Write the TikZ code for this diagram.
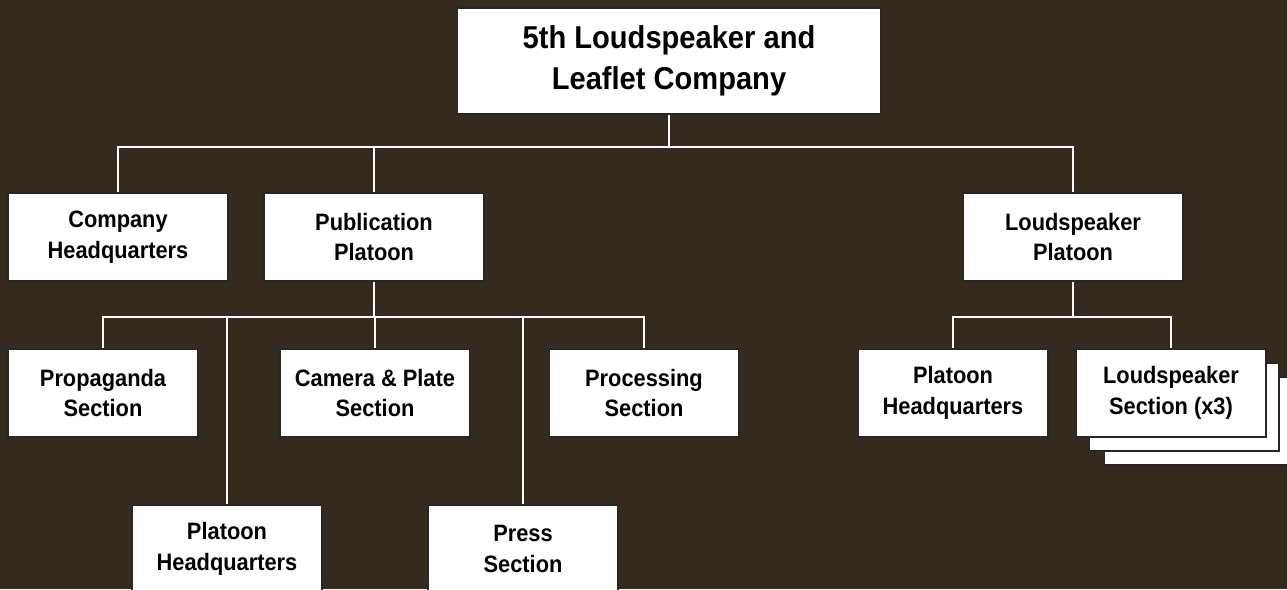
\documentclass[tikz,border=0pt]{standalone}
\usepackage{fontspec}
\setmainfont[FakeStretch=0.92]{Liberation Sans}
\usetikzlibrary{positioning}

\definecolor{bgbrown}{RGB}{52,42,30}

\begin{document}
\begin{tikzpicture}[
  x=0.02cm, y=-0.02cm,
  font=\bfseries\fontsize{13.5}{17.6}\selectfont,
  unit/.style={
    draw=black!85,
    line width=0.6pt,
    fill=white,
    align=center,
    inner sep=0pt,
    minimum width=3.8cm,
    minimum height=1.76cm
  },
  wide/.style={unit, minimum width=4.4cm},
  link/.style={draw=white, line width=1.4pt}
]

\fill[bgbrown] (0,0) rectangle (1287,589);
\useasboundingbox (0,0) rectangle (1287,589);

\node[unit, minimum width=8.48cm, minimum height=2.12cm,
  font=\bfseries\fontsize{18}{23.3}\selectfont] (company) at (669,61)
  {5th Loudspeaker and\\Leaflet Company};

\node[wide] (hq) at (118,237) {Company\\Headquarters};
\node[wide] (pub) at (374,237) {Publication\\Platoon};
\node[wide] (lsplt) at (1073,237) {Loudspeaker\\Platoon};

\node[unit] (prop) at (103,393) {Propaganda\\Section};
\node[unit] (camera) at (375,393) {Camera \& Plate\\Section};
\node[unit] (proc) at (644,393) {Processing\\Section};
\node[unit] (pubhq) at (227,549) {Platoon\\Headquarters};
\node[unit] (press) at (523,549) {Press\\Section};

\node[unit] (lshq) at (953,393) {Platoon\\Headquarters};
\node[unit] (lssec3) at (1199,421) {};
\node[unit] (lssec2) at (1184,407) {};
\node[unit] (lssec) at (1171,393) {Loudspeaker\\Section (x3)};

% company level
\coordinate (top) at (669,147);
\draw[link] (company.south) -- (top);
\draw[link] (hq.north) |- (top) -| (lsplt.north);
\draw[link] (pub.north) -- (pub.north |- top);

% publication platoon
\coordinate (pubbar) at (374,317);
\draw[link] (pub.south) -- (pubbar);
\draw[link] (prop.north) |- (pubbar) -| (proc.north);
\draw[link] (camera.north) -- (camera.north |- pubbar);
\draw[link] (pubhq.north) -- (pubhq.north |- pubbar);
\draw[link] (press.north) -- (press.north |- pubbar);

% loudspeaker platoon
\coordinate (lsbar) at (1073,317);
\draw[link] (lsplt.south) -- (lsbar);
\draw[link] (lshq.north) |- (lsbar) -| (lssec.north);

\end{tikzpicture}
\end{document}
